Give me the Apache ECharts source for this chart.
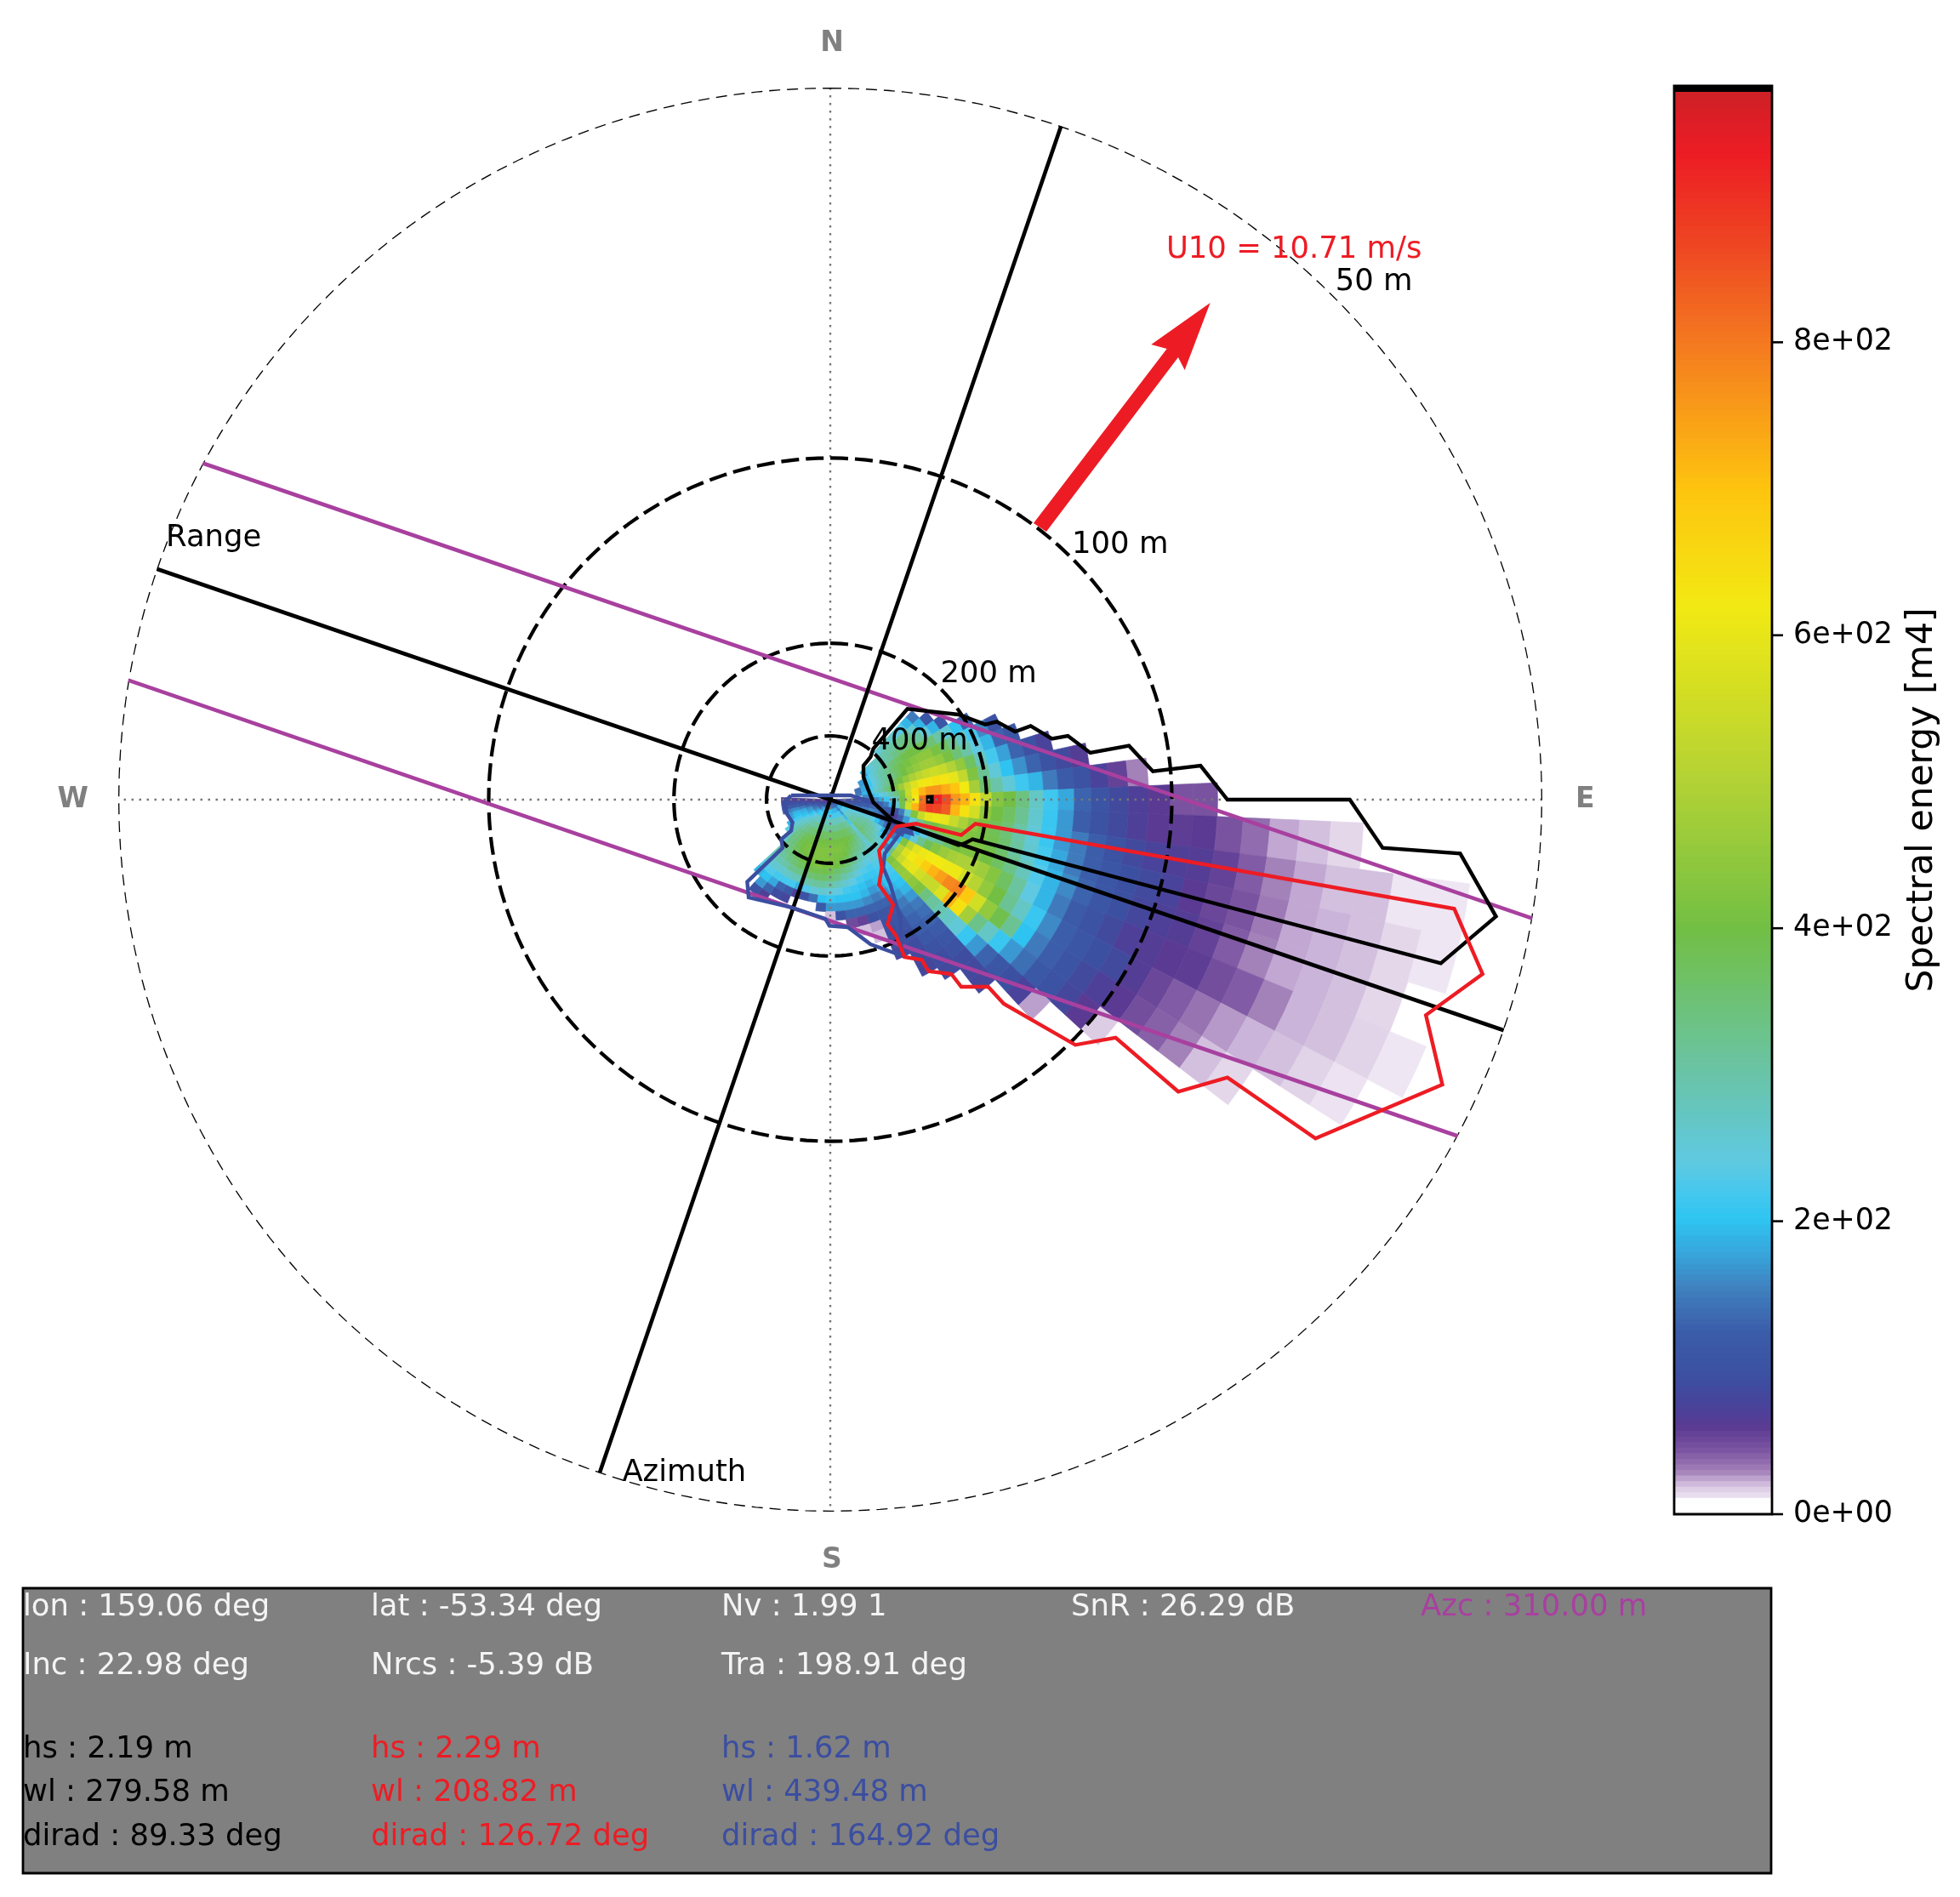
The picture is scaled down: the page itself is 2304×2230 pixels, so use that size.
<!DOCTYPE html>
<html>
<head>
<meta charset="utf-8">
<style>html,body{margin:0;padding:0;background:#fff;overflow:hidden}#c{width:2304px;height:2230px}</style>
<script src="https://cdn.jsdelivr.net/npm/echarts@6/dist/echarts.min.js"></script>
</head>
<body>
<div id="c"></div>
<script>
// wavenumber bin edges [rad/m]
const kEdges = [.0049,.0058,.0065,.0073,.0082,.0093,.0104,.0117,.0125,.0132,.0140,.0149,.0158,.0167,.0177,.0188,.0200,.0212,.0225,.0239,.0254,.0270,.0286,.0304,.0323,.0343,.0364,.0387,.0411,.0436,.0463,.0492,.0522,.0555,.0589,.0626,.0665,.0706,.0750,.0796,.0846,.0899,.0954,.1013,.1076,.1143,.1214,.1257];
const kMin = 0.0049, kMax = 0.12566;
const ringWavelengths = [50, 100, 200, 400];
const sectorWidth = 5;
// [bearing of sector centre (deg), first k-bin, spectral energy per k-bin]
const spectrumSectors = [
[45,12,[250,270,280,270,250,230,190,150]],
[50,7,[190,230,250,270,280,290,300,310,320,330,320,260,190,110]],
[55,7,[170,220,250,270,290,300,310,330,350,360,350,310,250,190,110]],
[60,6,[170,210,240,270,290,310,330,350,370,390,400,400,380,350,300,250,200,130]],
[65,6,[170,210,240,270,300,320,340,370,390,410,430,440,440,410,370,320,270,220,160,100]],
[70,5,[140,180,210,240,270,300,320,340,370,400,430,450,470,470,450,410,350,300,240,190,130,110]],
[75,5,[140,180,220,250,280,310,340,370,410,450,490,520,540,550,540,500,450,370,280,220,175,130,100,75]],
[80,5,[150,190,230,260,290,330,370,420,470,530,580,610,630,640,630,600,530,420,320,250,200,165,130,100,85,65]],
[85,6,[160,190,220,240,260,300,340,420,540,640,720,760,760,730,700,620,480,360,300,250,215,190,150,120,100,75,55,30]],
[90,0,[90,90,90,90,90,90,110,130,160,180,210,240,290,400,520,620,810,1000,920,860,760,720,640,530,430,400,340,270,215,180,130,105,85,70,60,45,45]],
[95,0,[80,80,80,85,90,100,105,110,120,130,150,190,260,380,560,720,830,880,870,840,720,640,560,450,400,370,320,260,210,170,125,100,85,70,60,58,60,45,36,24,20,15]],
[100,0,[90,90,95,100,105,110,120,130,135,130,120,110,100,150,260,420,540,600,610,600,540,490,440,410,380,350,300,250,210,170,150,125,100,85,75,68,65,55,42,30,24,20,20,11,11]],
[105,0,[100,100,110,120,130,140,150,160,150,140,120,90,70,120,170,240,320,370,400,420,430,430,420,410,390,360,310,260,220,180,150,125,110,95,85,75,60,52,45,32,24,22,20,15,11]],
[110,0,[110,120,140,170,190,200,210,220,210,180,140,100,80,70,90,130,190,240,290,320,360,400,420,420,400,370,330,280,230,190,160,130,110,95,80,70,65,55,42,30,24,22,20,15]],
[115,0,[110,130,170,210,230,240,250,260,240,200,170,140,110,100,120,180,250,320,380,430,460,480,490,490,470,430,370,310,240,190,150,120,100,85,70,65,60,58,48,42,30,22,20,16,11]],
[120,0,[110,140,180,220,250,270,290,300,290,270,240,190,150,150,200,420,520,590,610,620,620,610,610,560,510,450,400,320,270,210,160,125,110,95,85,65,52,42,34,26,22,20,16,12]],
[125,0,[100,140,190,230,260,290,310,320,310,300,270,220,190,200,260,500,580,620,640,680,720,750,780,790,690,560,450,390,320,200,150,125,105,85,70,60,48,40,30,20,15]],
[130,0,[100,140,190,230,270,300,320,340,320,310,290,270,230,150,330,480,540,590,600,560,540,540,580,720,640,480,330,270,210,170,140,115,100,80,60,18]],
[135,0,[100,140,190,230,270,310,340,350,340,320,310,290,270,240,210,420,440,450,460,440,420,340,310,290,270,250,210,170,130,110,95,75,25]],
[140,0,[90,100,130,160,190,220,250,270,270,270,260,260,250,240,230,230,220,210,200,190,170,150,140,130,120,110,100,90,85,80]],
[145,0,[100,130,170,210,260,300,320,330,320,310,300,280,260,250,230,220,210,200,190,170,150,140,130,125,115,100,90,85]],
[150,0,[100,140,180,220,270,310,350,370,360,340,320,290,270,240,220,210,200,180,160,130,115,110,105,95,90,85,80]],
[155,0,[100,140,190,220,280,330,370,390,380,360,340,310,290,260,230,210,190,170,150,130,110,100,95,90,80]],
[160,0,[100,140,190,220,280,330,370,400,400,390,370,350,320,290,250,220,200,190,160,130,100,25,20]],
[165,0,[100,140,190,220,280,320,370,400,410,410,400,380,350,320,280,240,210,200,170,130,55,20]],
[170,0,[100,140,190,220,280,320,370,400,410,420,410,400,380,340,300,260,220,200,170,130,50]],
[175,0,[100,150,200,220,280,320,370,400,410,420,410,410,400,360,330,280,240,200,170,100]],
[180,0,[100,150,200,220,280,320,370,400,410,420,410,420,410,380,350,300,250,210,170,20]],
[185,0,[100,150,200,220,280,320,370,400,410,420,420,420,410,390,360,310,260,200,120]],
[190,0,[100,150,200,220,280,320,370,400,410,420,420,420,420,390,360,310,250,140]],
[195,0,[100,150,200,220,280,320,370,400,410,420,420,420,410,390,350,300,230,100]],
[200,0,[100,140,200,220,280,320,370,400,410,420,420,410,400,380,340,280,190,70]],
[205,0,[90,140,190,220,270,320,360,390,400,410,410,400,390,370,330,280,220,120,80]],
[210,0,[90,130,190,220,270,310,350,380,390,400,400,390,370,350,320,270,220,130,90]],
[215,0,[90,130,180,220,270,300,340,370,380,390,380,370,350,330,300,260,220,180,130,70]],
[220,0,[80,120,170,210,260,290,320,340,350,350,350,340,330,310,290,260,230,200,170,100]],
[225,0,[80,110,160,200,240,270,300,320,330,330,330,320,310,300,280,260,230,190]],
[230,0,[70,100,140,180,220,250,270,290,290,290,270,240]],
[235,0,[70,90,130,170,200,230,250,260,260,240]],
[240,0,[60,90,120,150,180,200,220,220,190]],
[245,0,[60,80,110,140,170,190,200,180]],
[250,0,[60,75,100,130,160,180,190,170]],
[255,0,[60,70,90,110,130,150,160,150,120]],
[260,0,[60,65,80,90,100,110,120,120,100]],
[265,0,[60,60,70,75,80,90,95,95,80]],
[270,0,[55,55,60,65,70,70,70,70,70]]
];
// colour scale: [energy, colour]
const colorStops = [[0,'#ffffff'],[9.5,'#ffffff'],[10,'#f1eaf5'],[14,'#e6daec'],[18,'#dccce4'],[23,'#c6aed6'],[29,'#a684bb'],[37,'#8e69ac'],[45,'#7953a0'],[60,'#5a3a92'],[73,'#4a429a'],[93,'#3c4fa1'],[124,'#3b5ca9'],[153,'#3f7fbe'],[178,'#38a5db'],[201,'#2ec4f1'],[220,'#45c8ee'],[240,'#5fc9e2'],[300,'#69c4a8'],[400,'#72bf44'],[500,'#b2d235'],[620,'#f2e913'],[700,'#fec40f'],[800,'#f47920'],[867,'#ee4623'],[929,'#ed1c24'],[970,'#cf2027']];
const colorMax = 970, colorTop = 975;
const colorTicks = [0,200,400,600,800];
const colorTickLabels = ['0e+00','2e+02','4e+02','6e+02','8e+02'];
// lines in polar terms: [k, bearing]
const rangeLine = [[kMax,108.91],[kMin,108.91],[kMax,288.91]];
const azimuthLine = [[kMax,18.91],[kMin,18.91],[kMax,198.91]];
const azcUpper = [[kMax,298.2],[kMax,99.6]];
const azcLower = [[kMax,279.65],[kMax,118.2]];
const compassLines = [[[kMax,0],[kMin,0],[kMax,180]],[[kMax,90],[kMin,90],[kMax,270]]];
// partition contours and wind arrow in the spectral plane, 1e-3 rad/m from the centre
const blackContour = [[10.68,-3.61],[21.74,-7.70],[22.70,-7.46],[24.15,-6.73],[103.58,-27.76],[112.94,-19.82],[106.87,-9.14],[93.71,-8.18],[88.14,0],[67.38,0],[62.82,5.77],[54.73,4.81],[50.68,9.14],[44.10,7.94],[40.31,10.82],[37.6,10.34],[34.0,12.51],[31.36,11.54],[28.23,13.23],[26.31,12.75],[21.74,14.43],[13.08,15.39],[7.31,8.66],[6.83,7.22],[5.63,5.77],[5.63,3.85],[6.35,1.92],[7.31,-0.48],[10.68,-3.61]];
const redContour = [[11.16,-4.57],[14.53,-4.09],[22.22,-6.01],[24.63,-4.09],[105.86,-18.52],[110.66,-29.58],[101.05,-36.56],[103.84,-48.34],[82.32,-57.48],[67.38,-47.14],[59.03,-49.54],[48.41,-40.40],[41.57,-41.61],[29.44,-34.63],[26.79,-31.75],[22.22,-31.75],[20.54,-29.58],[16.69,-29.10],[15.49,-27.18],[12.60,-26.70],[11.16,-23.09],[9.72,-21.16],[10.68,-17.80],[8.27,-14.43],[8.75,-11.54],[8.27,-8.66],[11.16,-4.57]];
const blueContour = [[-6.64,0.72],[-7.84,-0.48],[-7.36,-2.40],[-6.40,-3.85],[-6.64,-5.29],[-8.32,-6.73],[-8.08,-8.18],[-14.09,-13.95],[-13.85,-16.59],[-6.64,-18.28],[-0.87,-20.20],[-0.14,-21.40],[2.98,-21.65],[6.83,-24.53],[12.12,-26.46],[11.88,-20.20],[10.20,-14.43],[8.99,-11.54],[9.24,-9.14],[12.12,-5.29],[13.80,-5.77],[13.56,-5.05],[10.68,-3.61],[7.31,-0.48],[3.46,0.72],[-6.64,0.72]];
const windArrow = [[34.49,46.90],[57.10,76.48],[54.45,77.20],[64.46,84.27],[60.13,72.87],[59.02,75.04],[36.65,45.45]];
const planeLabels = [
 ['U10 = 10.71 m/s',57.0,93.3,'#ed1c24'],['50 m',85.7,87.8,'#000'],['100 m',41.0,43.2,'#000'],
 ['200 m',18.7,21.3,'#000'],['400 m',7.0,9.9,'#000'],['Range',-112.7,44.4,'#000'],['Azimuth',-35.3,-114.3,'#000']];
// info panel
const panelColumns = [27,436,848,1259,1670];
const panelRows = [1890,1959,2057,2108,2160];
const WHITE='#f4f4f4',RED='#ed1c24',BLUE='#3b4ea0',BLACK='#000',PURPLE='#a8409f';
const panelText = [
 [0,0,'lon : 159.06 deg',WHITE],[1,0,'lat : -53.34 deg',WHITE],[2,0,'Nv : 1.99 1',WHITE],[3,0,'SnR : 26.29 dB',WHITE],[4,0,'Azc : 310.00 m',PURPLE],
 [0,1,'Inc : 22.98 deg',WHITE],[1,1,'Nrcs : -5.39 dB',WHITE],[2,1,'Tra : 198.91 deg',WHITE],
 [0,2,'hs : 2.19 m',BLACK],[1,2,'hs : 2.29 m',RED],[2,2,'hs : 1.62 m',BLUE],
 [0,3,'wl : 279.58 m',BLACK],[1,3,'wl : 208.82 m',RED],[2,3,'wl : 439.48 m',BLUE],
 [0,4,'dirad : 89.33 deg',BLACK],[1,4,'dirad : 126.72 deg',RED],[2,4,'dirad : 164.92 deg',BLUE]];

const FONT='"DejaVu Sans"';
const hex=c=>[1,3,5].map(i=>parseInt(c.substr(i,2),16));
function colorOf(v){
  if(v>=colorMax) return '#000000';
  for(let i=1;i<colorStops.length;i++){
    if(v<=colorStops[i][0]){
      const a=colorStops[i-1],b=colorStops[i],t=(v-a[0])/(b[0]-a[0]);
      const A=hex(a[1]),B=hex(b[1]);
      return 'rgb('+A.map((x,j)=>Math.round(x+(B[j]-x)*t)).join(',')+')';
    }
  }
  return '#000000';
}
const cells=[];
spectrumSectors.forEach(([b,start,vals])=>vals.forEach((v,i)=>{cells.push([kEdges[start+i],kEdges[start+i+1],b,v]);}));
function cellItem(p,api){
  const k0=api.value(0),k1=api.value(1),b=api.value(2),v=api.value(3);
  if(v<10) return null;
  const h=sectorWidth/2,c=colorOf(v);
  const pts=[[k0,b-h],[k0,b],[k0,b+h],[k1,b+h],[k1,b],[k1,b-h]].map(q=>api.coord(q));
  return {type:'polygon',shape:{points:pts},style:{fill:c,stroke:c,lineWidth:0.7}};
}
const barStep=(colorTop)/256, barLevels=[];
for(let i=0;i<256;i++) barLevels.push([i*barStep,(i+1)*barStep]);
function barItem(p,api){
  const a=api.coord([0,api.value(0)]),b=api.coord([1,api.value(1)]);
  const c=colorOf((api.value(0)+api.value(1))/2);
  return {type:'rect',shape:{x:a[0],y:b[1]-0.5,width:b[0]-a[0],height:a[1]-b[1]+1},style:{fill:c}};
}
function ring(lam){const k=2*Math.PI/lam,d=[];for(let a=0;a<=360;a+=2)d.push([k,a]);return d;}
const polarLine=(data,color,w,type,z)=>({type:'line',coordinateSystem:'polar',polarIndex:0,data,showSymbol:false,symbol:'none',silent:true,z:z||4,lineStyle:{color,width:w,type:type||'solid',cap:'butt'}});
const planeLine=(data,color,z)=>({type:'line',xAxisIndex:0,yAxisIndex:0,data,showSymbol:false,symbol:'none',silent:true,z:z||5,lineStyle:{color,width:4.4,join:'miter'}});

const series=[
 {type:'custom',coordinateSystem:'polar',polarIndex:0,data:cells,renderItem:cellItem,encode:{radius:0,angle:2},silent:true,z:2,animation:false},
];
compassLines.forEach(l=>series.push(polarLine(l,'#777777',2.4,[2.5,6.5],3)));
ringWavelengths.forEach((lam,i)=>series.push(polarLine(ring(lam),'#000',i==0?2.6:4.2,i==0?[13,8]:[21,8],4)));
series.push(polarLine(azcUpper,PURPLE,4.6),polarLine(azcLower,PURPLE,4.6),polarLine(rangeLine,'#000',4.6),polarLine(azimuthLine,'#000',4.6));
series.push(planeLine(blackContour,'#000',6),planeLine(redContour,'#ed1c24',6),planeLine(blueContour,'#3b4ea0',5));
series.push({type:'custom',xAxisIndex:0,yAxisIndex:0,data:[windArrow.flat()],silent:true,z:7,
  renderItem:(p,api)=>({type:'polygon',shape:{points:windArrow.map((_,i)=>api.coord([api.value(2*i),api.value(2*i+1)]))},style:{fill:'#ed1c24'}})});
series.push({type:'scatter',xAxisIndex:0,yAxisIndex:0,symbolSize:0,silent:true,z:8,itemStyle:{opacity:1},
  data:planeLabels.map(l=>({value:[l[1],l[2]],label:{show:true,position:'right',distance:0,opacity:1,formatter:l[0],color:l[3],fontFamily:FONT,fontSize:35.4}}))});
series.push({type:'custom',xAxisIndex:1,yAxisIndex:1,data:barLevels,renderItem:barItem,silent:true,z:2,encode:{y:[0,1]}});
series.push({type:'custom',xAxisIndex:1,yAxisIndex:1,data:[[0,colorTop]],silent:true,z:3,encode:{y:[0,1]},
  renderItem:(p,api)=>{const a=api.coord([0,api.value(0)]),b=api.coord([1,api.value(1)]);
    return {type:'rect',shape:{x:a[0],y:b[1],width:b[0]-a[0],height:a[1]-b[1]},style:{fill:'none',stroke:'#000',lineWidth:2.8}};}});
series.push({type:'custom',xAxisIndex:1,yAxisIndex:1,data:colorTicks.map(v=>[v]),silent:true,z:3,encode:{y:0},clip:false,
  renderItem:(p,api)=>{const a=api.coord([1,api.value(0)]);
    return {type:'line',shape:{x1:a[0],y1:a[1],x2:a[0]+13,y2:a[1]},style:{stroke:'#000',lineWidth:2.6}};}});

const graphic=[{type:'rect',shape:{x:27,y:1867,width:2055,height:335},style:{fill:'#808080',stroke:'#000',lineWidth:2.8},z:1}];
panelText.forEach(([c,r,t,col])=>graphic.push({type:'text',x:panelColumns[c],y:panelRows[r],z:2,
  style:{text:t,fill:col,font:'35.4px '+FONT,verticalAlign:'middle'}}));

const chart=echarts.init(document.getElementById('c'),null,{renderer:'canvas',width:2304,height:2230});
chart.setOption({
  animation:false,backgroundColor:'#fff',
  polar:{center:[976,940],radius:837},
  angleAxis:{type:'value',min:0,max:360,interval:90,startAngle:90,clockwise:true,
    axisLine:{show:false},axisTick:{show:false},splitLine:{show:false},
    axisLabel:{margin:35,padding:[6,0,0,4],color:'#808080',fontWeight:'bold',fontFamily:FONT,fontSize:33,
      formatter:v=>({0:'N',90:'E',180:'S',270:'W'})[v]||''}},
  radiusAxis:{type:'value',min:kMin,max:kMax,axisLine:{show:false},axisTick:{show:false},axisLabel:{show:false},splitLine:{show:false}},
  grid:[{left:139,top:103,width:1674,height:1674,show:false},
        {left:1968,top:101,width:115,height:1679,show:false}],
  xAxis:[{type:'value',gridIndex:0,min:-120.8,max:120.8,show:false},
         {type:'value',gridIndex:1,min:0,max:1,show:false}],
  yAxis:[{type:'value',gridIndex:0,min:-120.8,max:120.8,show:false},
         {type:'value',gridIndex:1,min:0,max:colorTop,position:'right',
          axisLine:{show:false},splitLine:{show:false},axisTick:{show:false},
          axisLabel:{margin:25,color:'#000',fontFamily:FONT,fontSize:34.8,padding:[7,0,0,0],customValues:colorTicks,
            formatter:v=>colorTickLabels[colorTicks.indexOf(v)]},
          name:'Spectral energy [m4]',nameLocation:'middle',nameGap:155,nameRotate:90,
          nameTextStyle:{color:'#000',fontFamily:FONT,fontSize:42.5}}],
  series,graphic
});
</script>
</body>
</html>
